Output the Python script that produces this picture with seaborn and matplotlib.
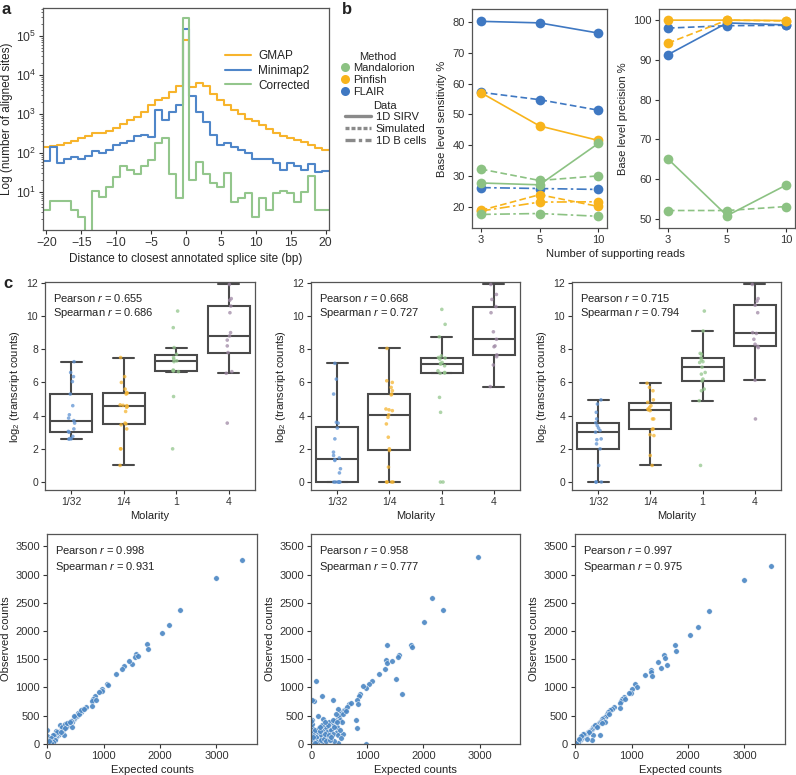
import numpy as np
import pandas as pd
import matplotlib
matplotlib.use("Agg")
import matplotlib.pyplot as plt
import seaborn as sns
from matplotlib.lines import Line2D

# ---------------- Panel a data ----------------
dist = list(range(-20, 21))
gmap = [142, 147, 163, 180, 200, 245, 270, 316, 330, 370, 445, 560, 690, 830, 1120, 1740, 2240, 2630, 3650, 5100,
        80000,
        4900, 6200, 5100, 3170, 2240, 1660, 1290, 980, 760, 650, 510, 420, 316, 270, 245, 220, 190, 163, 137, 117]
minimap2 = [62, 138, 55, 68, 79, 70, 82, 112, 102, 115, 158, 182, 204, 270, 285, 257, 1290, 710, 1120, 1740,
            148000,
            2830, 1120, 620, 280, 158, 174, 138, 117, 100, 68, 68, 68, 54, 37, 54, 46, 37, 52, 32, 34]
corrected = [3.4, 5.9, 5.9, 5.9, 3.4, 2.3, 0, 10.7, 7.4, 13.5, 24, 46, 37, 28, 46, 65, 180, 235, 29, 6.8,
             290000,
             20, 59, 29, 17, 13.5, 31, 5.5, 6.8, 9.3, 2.3, 6.8, 3.4, 9.3, 10.7, 9.3, 5.5, 10, 25, 3.5, 3.5]
aligners = ["GMAP", "Minimap2", "Corrected"]

# ---------------- Panel b data ----------------
reads = ["3", "5", "10"]
methods = ["Mandalorion", "Pinfish", "FLAIR"]
datasets = ["1D SIRV", "Simulated", "1D B cells"]
sens_flair_sirv = [80.2, 79.7, 76.4]
sens_flair_sim = [57.2, 54.8, 51.4]
sens_flair_bcell = [26.3, 26.0, 25.7]
sens_pinfish_sirv = [57.1, 46.3, 41.6]
sens_pinfish_sim = [18.9, 24.0, 20.2]
sens_pinfish_bcell = [18.7, 21.6, 21.7]
sens_mand_sirv = [27.8, 27.2, 40.6]
sens_mand_sim = [32.3, 28.6, 30.1]
sens_mand_bcell = [17.6, 17.9, 17.0]
prec_flair_sirv = [91.3, 99.3, 98.8]
prec_flair_sim = [98.0, 98.6, 98.7]
prec_pinfish_sirv = [100.0, 100.0, 99.9]
prec_pinfish_sim = [94.2, 100.0, 99.8]
prec_mand_sirv = [65.1, 50.8, 58.5]
prec_mand_sim = [52.1, 52.1, 53.1]

# ---------------- Panel c data (box plots) ----------------
molarity = ["1/32", "1/4", "1", "4"]
box1_m1_32 = [2.58, 2.6, 2.62, 2.75, 3.0, 3.05, 3.2, 3.55, 3.7, 3.85, 4.05, 4.6, 5.3, 6.05, 6.35, 6.6, 7.25]
box1_m1_4 = [1.0, 2.0, 2.0, 3.2, 3.45, 3.5, 3.55, 4.25, 4.5, 4.55, 4.6, 4.62, 4.65, 5.3, 5.35, 5.4, 5.6, 6.0, 6.35, 7.5]
box1_m1 = [2.0, 5.15, 6.65, 6.7, 6.7, 6.75, 7.25, 7.3, 7.4, 7.5, 7.7, 8.1, 9.3, 10.3]
box1_m4 = [3.55, 6.55, 6.65, 7.8, 8.2, 8.55, 8.8, 9.0, 10.2, 10.6, 10.95, 11.05, 11.9]
box2_m1_32 = [0, 0, 0, 0, 0, 0, 0.55, 0.8, 1.3, 1.35, 1.45, 1.6, 1.8, 2.6, 3.25, 3.55, 3.6, 5.3, 6.2, 7.15]
box2_m1_4 = [0, 0, 0, 0, 0.9, 1.9, 2.0, 2.7, 3.5, 3.9, 4.05, 4.3, 4.35, 4.4, 5.25, 5.3, 5.5, 5.7, 6.0, 6.1, 8.05]
box2_m1 = [0, 0, 4.2, 5.1, 6.55, 6.57, 6.6, 6.7, 7.0, 7.1, 7.15, 7.2, 7.4, 7.47, 7.5, 7.6, 8.75, 9.5, 10.4]
box2_m4 = [5.75, 7.05, 7.55, 7.66, 8.15, 8.2, 8.6, 9.05, 10.2, 10.57, 11.0, 11.3, 11.9]
box3_m1_32 = [0, 0, 0, 1.0, 2.0, 2.3, 2.55, 2.6, 3.0, 3.1, 3.25, 3.4, 3.57, 3.8, 4.2, 4.7, 4.95]
box3_m1_4 = [1.0, 1.6, 2.8, 2.85, 3.17, 3.2, 3.8, 3.8, 4.3, 4.35, 4.4, 4.5, 4.6, 4.8, 4.95, 5.5, 5.7, 5.95]
box3_m1 = [1.0, 4.9, 5.5, 5.6, 6.09, 6.2, 6.5, 6.6, 6.92, 7.2, 7.25, 7.35, 7.48, 7.7, 7.75, 9.1, 10.3]
box3_m4 = [3.8, 6.13, 8.1, 8.17, 8.3, 8.6, 8.95, 9.0, 10.2, 10.65, 10.9, 11.05, 11.9]
box_pearson = ["0.655", "0.668", "0.715"]
box_spearman = ["0.686", "0.727", "0.794"]

# ---------------- Panel c data (scatter) ----------------
sc1_expected = [3456, 2988, 2355, 2166, 2030, 1769, 1781, 1568, 1550, 1604,
                1503, 1456, 1355, 1325, 1219, 1053, 1083, 975, 970, 917,
                840, 811, 793, 864, 793, 686, 640, 604, 568, 540,
                520, 500, 480, 460, 440, 430, 420, 400, 380, 370,
                350, 330, 300, 290, 270, 250, 230, 220, 210, 200,
                190, 170, 150, 140, 120, 100, 90, 80, 60, 50,
                40, 30, 20, 10, 0, 0, 0, 150, 180, 120,
                100, 70, 260, 320, 444, 480, 560, 600, 650, 250,
                310, 350, 400, 130, 110, 60, 30]
sc1_observed = [3254, 2941, 2373, 2100, 1960, 1775, 1686, 1586, 1540, 1550,
                1414, 1467, 1373, 1330, 1243, 1053, 1036, 970, 929, 923,
                840, 799, 763, 781, 663, 650, 615, 560, 527, 545,
                500, 470, 440, 420, 400, 380, 410, 370, 340, 330,
                320, 300, 280, 150, 240, 250, 210, 330, 200, 180,
                160, 170, 120, 110, 90, 80, 100, 60, 50, 40,
                30, 20, 10, 5, 240, 130, 60, 230, 200, 150,
                160, 100, 300, 350, 296, 500, 530, 590, 620, 210,
                270, 360, 390, 60, 30, 20, 50]
sc2_expected = [2971, 2156, 2345, 2014, 1341, 1772, 1790, 1565, 1542, 1329,
                1341, 1447, 1311, 1211, 1506, 1612, 1075, 1034, 969, 915,
                868, 845, 809, 833, 791, 809, 679, 608, 532, 473,
                484, 455, 473, 354, 384, 307, 207, 148, 83, 195,
                47, 12, 384, 118, 18, 975, 0, 0, 0, 0,
                0, 0, 0, 20, 30, 50, 60, 80, 100, 120,
                150, 180, 200, 220, 250, 260, 280, 300, 320, 350,
                380, 400, 420, 450, 470, 500, 520, 550, 560, 580,
                600, 640, 10, 40, 70, 90, 110, 130, 160, 170,
                190, 230, 240, 270, 290, 310, 330, 360, 390, 410,
                440, 460, 510, 530, 570, 620, 700, 250, 150, 60,
                30, 0]
sc2_observed = [3310, 2580, 2367, 2165, 1750, 1756, 1720, 1572, 1530, 1483,
                1435, 1471, 1317, 1234, 1145, 884, 1121, 1056, 990, 1026,
                884, 842, 771, 700, 415, 285, 712, 593, 563, 463,
                623, 208, 18, 267, 344, 267, 445, 42, 1109, 842,
                753, 771, 771, 486, 415, 0, 300, 250, 200, 150,
                100, 50, 0, 280, 200, 150, 100, 50, 0, 200,
                100, 150, 0, 250, 120, 300, 200, 100, 380, 250,
                180, 50, 400, 300, 150, 500, 420, 380, 180, 600,
                600, 650, 350, 60, 250, 120, 30, 280, 220, 60,
                330, 90, 180, 40, 330, 160, 60, 120, 420, 300,
                520, 380, 250, 100, 520, 580, 720, 380, 300, 10,
                120, 400]
sc3_expected = [3476, 3000, 2377, 2181, 2038, 1777, 1794, 1575, 1586, 1628,
                1515, 1473, 1337, 1349, 1361, 1236, 1063, 1099, 998, 992,
                951, 860, 830, 810, 880, 800, 790, 690, 650, 610,
                580, 560, 540, 520, 500, 490, 470, 450, 430, 420,
                400, 380, 360, 340, 320, 300, 280, 260, 240, 220,
                200, 180, 160, 140, 120, 100, 80, 60, 40, 20,
                446, 315, 303, 210, 250, 150, 130, 100, 70, 350,
                380, 520, 600, 470]
sc3_observed = [3154, 2899, 2361, 2071, 1923, 1757, 1645, 1568, 1527, 1402,
                1349, 1450, 1314, 1272, 1201, 1225, 1053, 1000, 976, 905,
                905, 830, 800, 760, 790, 720, 640, 650, 610, 590,
                560, 520, 500, 470, 450, 420, 440, 400, 380, 360,
                350, 330, 320, 300, 290, 260, 250, 230, 210, 200,
                180, 160, 150, 120, 100, 90, 70, 60, 30, 10,
                148, 148, 59, 80, 200, 170, 180, 130, 90, 340,
                300, 380, 520, 360]
sc_pearson = ["0.998", "0.958", "0.997"]
sc_spearman = ["0.931", "0.777", "0.975"]

# ---------------- Style ----------------
sns.set_theme(style="ticks")
plt.rcParams["font.family"] = ["Liberation Sans", "DejaVu Sans"]
plt.rcParams["mathtext.fontset"] = "custom"
plt.rcParams["mathtext.rm"] = "Liberation Sans"
plt.rcParams["mathtext.it"] = "Liberation Sans:italic"
plt.rcParams["axes.edgecolor"] = "#555555"
plt.rcParams["axes.linewidth"] = 0.9
plt.rcParams["xtick.color"] = "#333333"
plt.rcParams["ytick.color"] = "#333333"
plt.rcParams["xtick.major.size"] = 3
plt.rcParams["ytick.major.size"] = 3
plt.rcParams["xtick.major.width"] = 0.8
plt.rcParams["ytick.major.width"] = 0.8
plt.rcParams["text.color"] = "#222222"
plt.rcParams["axes.labelcolor"] = "#222222"

W, H = 796, 775
fig = plt.figure(figsize=(W / 100, H / 100), dpi=100)


def ax_px(left, top, right, bottom):
    return fig.add_axes([left / W, 1 - bottom / H, (right - left) / W, (bottom - top) / H])


C_YEL = "#f7b42c"
C_BLUE = "#4f86c9"
C_GREEN = "#93c68c"
c_blue_pt = "#3f78c2"
c_yel_pt = "#f8b41c"
c_grn_pt = "#8cc283"

# ---------------- Panel a ----------------
axa = ax_px(43, 8, 329, 230)
cols_a = [C_YEL, C_BLUE, C_GREEN]
for name, vals, col in zip(aligners, [gmap, minimap2, corrected], cols_a):
    dfa = pd.DataFrame({"d": dist, "w": vals})
    sns.histplot(data=dfa, x="d", weights="w", binwidth=1, binrange=(-20.5, 20.5), element="step",
                 fill=False, color=col, linewidth=1.5, ax=axa)
axa.set_yscale("log")
axa.set_ylim(1.05, 5.2e5)
axa.set_xlim(-20.5, 20.5)
axa.set_xticks([-20, -15, -10, -5, 0, 5, 10, 15, 20])
axa.set_ylabel("Log (number of aligned sites)", fontsize=8.5, labelpad=2)
axa.set_xlabel("Distance to closest annotated splice site (bp)", fontsize=8.5, labelpad=3)
axa.tick_params(labelsize=8.8, pad=2)
axa.tick_params(which="minor", length=1.5, width=0.5)
handles_a = [Line2D([], [], color=c, lw=1.5) for c in cols_a]
axa.legend(handles_a, aligners, loc="upper right", bbox_to_anchor=(0.97, 0.86), frameon=False,
           fontsize=8.5, handlelength=2.2, handletextpad=0.6, labelspacing=0.25)
fig.text(2 / W, 1 - 10 / H, "a", fontsize=12, fontweight="bold", va="center")

# ---------------- Panel b ----------------
cmap_m = {"Mandalorion": c_grn_pt, "Pinfish": c_yel_pt, "FLAIR": c_blue_pt}
dash_map = {"1D SIRV": "", "Simulated": (4, 2), "1D B cells": (6, 2, 1.5, 2)}
sens_series = [("FLAIR", "1D SIRV", sens_flair_sirv), ("FLAIR", "Simulated", sens_flair_sim),
               ("FLAIR", "1D B cells", sens_flair_bcell),
               ("Pinfish", "1D SIRV", sens_pinfish_sirv), ("Pinfish", "Simulated", sens_pinfish_sim),
               ("Pinfish", "1D B cells", sens_pinfish_bcell),
               ("Mandalorion", "1D SIRV", sens_mand_sirv), ("Mandalorion", "Simulated", sens_mand_sim),
               ("Mandalorion", "1D B cells", sens_mand_bcell)]
prec_series = [("FLAIR", "1D SIRV", prec_flair_sirv), ("FLAIR", "Simulated", prec_flair_sim),
               ("Pinfish", "1D SIRV", prec_pinfish_sirv), ("Pinfish", "Simulated", prec_pinfish_sim),
               ("Mandalorion", "1D SIRV", prec_mand_sirv), ("Mandalorion", "Simulated", prec_mand_sim)]

axs = ax_px(472, 9, 607, 228)
axp = ax_px(659, 9, 795, 228)
for ax, series in [(axs, sens_series), (axp, prec_series)]:
    for m, d, vals in series:
        df = pd.DataFrame({"Reads": reads, "v": vals})
        sns.lineplot(data=df, x="Reads", y="v", color=cmap_m[m], marker="o", markersize=7,
                     markeredgewidth=0, linewidth=1.2, ax=ax, sort=False)
        ln = ax.lines[-1]
        if dash_map[d] != "":
            ln.set_dashes(dash_map[d])
    ax.set_xlim(-0.15, 2.15)
    ax.set_xlabel("")
    ax.tick_params(labelsize=8, pad=2)
axs.set_ylim(13.2, 84.2)
axs.set_yticks([20, 30, 40, 50, 60, 70, 80])
axp.set_ylim(47.7, 102.8)
axp.set_yticks([50, 60, 70, 80, 90, 100])
axs.set_ylabel("Base level sensitivity %", fontsize=8, labelpad=4)
axp.set_ylabel("Base level precision %", fontsize=8, labelpad=4)
fig.text(615 / W, 1 - 254 / H, "Number of supporting reads", fontsize=8, ha="center", va="center")
fig.text(342 / W, 1 - 10 / H, "b", fontsize=12, fontweight="bold", va="center")

h_m = [Line2D([], [], color=cmap_m[m], marker="o", ls="", markersize=6.5, markeredgewidth=0) for m in methods]
leg1 = fig.legend(h_m, methods, title="Method", loc="upper left", bbox_to_anchor=(336 / W, 1 - 46 / H),
                  frameon=False, fontsize=8, title_fontsize=8, handlelength=0.6, handletextpad=0.4,
                  labelspacing=0.15, borderpad=0)
h_d = [Line2D([], [], color="#8a8a8a", lw=2.4, ls="-"),
       Line2D([], [], color="#8a8a8a", lw=2.4, ls=(0, (1.2, 0.6))),
       Line2D([], [], color="#8a8a8a", lw=2.4, ls=(0, (3, 1, 1, 1)))]
leg2 = fig.legend(h_d, datasets, title="Data", loc="upper left", bbox_to_anchor=(339 / W, 1 - 95 / H),
                  frameon=False, fontsize=8, title_fontsize=8, handlelength=2.4, handletextpad=0.4,
                  labelspacing=0.15, borderpad=0)

# ---------------- Panel c boxes ----------------
strip_pal = {"1/32": "#5f93d3", "1/4": "#f5b531", "1": "#93c68c", "4": "#a08aa6"}
box_sets = [[box1_m1_32, box1_m1_4, box1_m1, box1_m4],
            [box2_m1_32, box2_m1_4, box2_m1, box2_m4],
            [box3_m1_32, box3_m1_4, box3_m1, box3_m4]]
box_pos = [(45, 282, 255, 490), (311, 282, 520, 490), (572, 282, 781, 490)]
for i, (groups, pos) in enumerate(zip(box_sets, box_pos)):
    ax = ax_px(*pos)
    rows = []
    for m, vals in zip(molarity, groups):
        rows += [(m, v) for v in vals]
    df = pd.DataFrame(rows, columns=["Molarity", "val"])
    sns.boxplot(data=df, x="Molarity", y="val", order=molarity, color="white", linecolor="#4a4a4a",
                linewidth=1.5, showfliers=False, width=0.8, ax=ax)
    sns.stripplot(data=df, x="Molarity", y="val", order=molarity, hue="Molarity", hue_order=molarity,
                  palette=strip_pal, size=2.6, jitter=0.07, alpha=0.75, legend=False, ax=ax)
    ax.set_ylim(-0.48, 12.05)
    ax.set_yticks([0, 2, 4, 6, 8, 10, 12])
    ax.set_xlim(-0.5, 3.5)
    ax.tick_params(labelsize=7.5, pad=2)
    ax.set_xlabel("Molarity", fontsize=8, labelpad=3)
    ax.set_ylabel(r"log$_2$ (transcript counts)", fontsize=8, labelpad=3)
    ax.text(0.04, 0.95, "Pearson $r$ = " + box_pearson[i] + "\nSpearman $r$ = " + box_spearman[i],
            transform=ax.transAxes, fontsize=8, va="top", ha="left", linespacing=1.15)
fig.text(3 / W, 1 - 283 / H, "c", fontsize=12, fontweight="bold", va="center")

# ---------------- Panel c scatter ----------------
sc_sets = [(sc1_expected, sc1_observed), (sc2_expected, sc2_observed), (sc3_expected, sc3_observed)]
sc_pos = [(47, 534, 257, 744), (311, 534, 520, 744), (575, 534, 785, 744)]
for i, ((ex, ob), pos) in enumerate(zip(sc_sets, sc_pos)):
    ax = ax_px(*pos)
    sns.scatterplot(x=ex, y=ob, s=16, color="#4a86c4", edgecolor="white", linewidth=0.4, alpha=0.9, ax=ax)
    ax.set_xlim(-5, 3720)
    ax.set_ylim(-5, 3720)
    ax.set_xticks([0, 1000, 2000, 3000])
    ax.set_yticks([0, 500, 1000, 1500, 2000, 2500, 3000, 3500])
    ax.tick_params(labelsize=8, pad=2)
    ax.set_xlabel("Expected counts", fontsize=8, labelpad=3)
    ax.set_ylabel("Observed counts", fontsize=8, labelpad=3)
    ax.text(0.04, 0.95, "Pearson $r$ = " + sc_pearson[i] + "\nSpearman $r$ = " + sc_spearman[i],
            transform=ax.transAxes, fontsize=8, va="top", ha="left", linespacing=1.3)

for ax in fig.axes:
    for s in ax.spines.values():
        s.set_visible(True)

fig.savefig("out.png", dpi=100)
